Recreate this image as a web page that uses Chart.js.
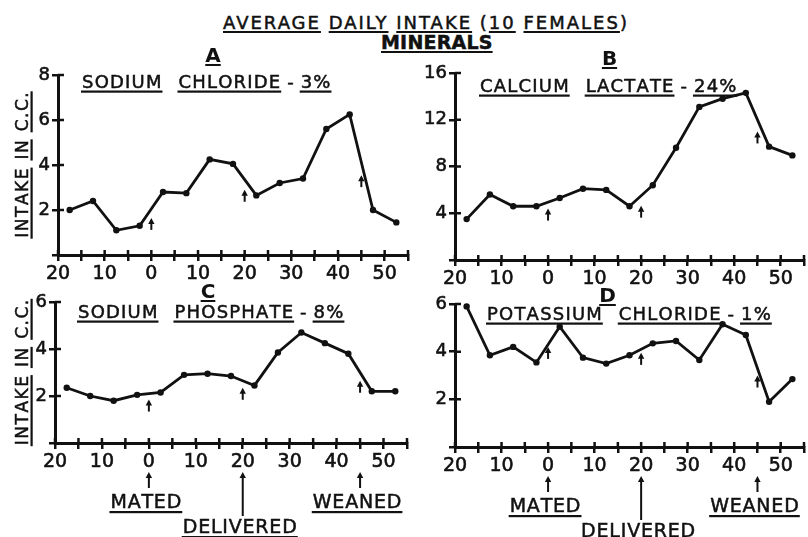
<!DOCTYPE html>
<html lang="en">
<head>
<meta charset="UTF-8">
<title>Average daily intake (10 females) - minerals</title>
<script src="https://cdn.jsdelivr.net/npm/chart.js"></script>
<style>
    body { margin: 0; background: #fff; }
    .page {
        position: relative;
        width: 808px;
        height: 537px;
        overflow: hidden;
        font-family: 'DejaVu Sans', sans-serif;
        color: #111;
    }
    .box { position: absolute; }
    .head {
        position: absolute;
        font-size: 18px;
        letter-spacing: 2px;
        line-height: 1;
        white-space: pre;
        -webkit-text-stroke: 0.5px #111;
    }
    .head u { text-decoration-thickness: 2px; text-underline-offset: 2px; }
</style>
</head>
<body>
<div class="page">
    <div class="head" style="left:223px; top:14px;"><u>AVERAGE</u> <u>DAILY</u> <u>INTAKE</u> (<u>10</u> <u>FEMALES</u>)</div>
    <div class="head" style="left:381px; top:33px; font-size:19px; font-weight:bold; letter-spacing:0.2px;"><u>MINERALS</u></div>
    <div class="box" style="left:0; top:40px; width:416px; height:250px;"><canvas id="cA"></canvas></div>
    <div class="box" style="left:400px; top:40px; width:408px; height:250px;"><canvas id="cB"></canvas></div>
    <div class="box" style="left:0; top:284px; width:416px; height:253px;"><canvas id="cC"></canvas></div>
    <div class="box" style="left:400px; top:284px; width:408px; height:253px;"><canvas id="cD"></canvas></div>
</div>

<script>
const ink = '#111';
const FONT = "'DejaVu Sans', sans-serif";

// days relative to mating (5-day periods)
const days = [-17.5, -12.5, -7.5, -2.5, 2.5, 7.5, 12.5, 17.5, 22.5, 27.5, 32.5, 37.5, 42.5, 47.5, 52.5];

// intake in c.c.
const sodiumChloride    = [2.0, 2.4, 1.1, 1.3, 2.8, 2.75, 4.25, 4.05, 2.65, 3.2, 3.4, 5.6, 6.25, 2.0, 1.45];
const calciumLactate    = [3.5, 5.6, 4.6, 4.6, 5.3, 6.1, 6.0, 4.6, 6.4, 9.6, 13.1, 13.8, 14.3, 9.7, 8.95];
const sodiumPhosphate   = [2.35, 2.0, 1.8, 2.05, 2.15, 2.9, 2.95, 2.85, 2.45, 3.85, 4.7, 4.25, 3.8, 2.2, 2.2];
const potassiumChloride = [5.9, 3.85, 4.2, 3.55, 5.05, 3.75, 3.5, 3.85, 4.35, 4.45, 3.65, 5.15, 4.7, 1.9, 2.85];

// mated / delivered / weaned
const eventDays = [0, 20, 45];
const eventNames = ['MATED', 'DELIVERED', 'WEANED'];

// where the small arrows sit on each curve (tip value)
const tipsA = [1.65, 2.9, 3.55];
const tipsB = [4.4, 4.65, 11.0];
const tipsC = [1.85, 2.35, 2.65];
const tipsD = [4.2, 3.95, 3.0];

// axis labels
const xLabelDays = [-20, -10, 0, 10, 20, 30, 40, 50];
const yTicksA = [2, 4, 6, 8];
const yTicksB = [4, 8, 12, 16];
const yTicksC = [2, 4, 6];
const yTicksD = [2, 4, 6];

const panels = {
    cA: { values: sodiumChloride, tips: tipsA, yTicks: yTicksA, letter: 'A',
          title: [['SODIUM', 1], ['CHLORIDE', 1], ['-', 0], ['3%', 1]],
          yWidth: 58, padTop: 35, padRight: 8, xHeight: 35,
          titleDx: 24, titleDy: 13, letterDx: -20, letterDy: -13, yLabelX: 28, events: false },
    cB: { values: calciumLactate, tips: tipsB, yTicks: yTicksB, letter: 'B',
          title: [['CALCIUM', 1], ['LACTATE', 1], ['-', 0], ['24%', 1]],
          yWidth: 55, padTop: 33, padRight: 2, xHeight: 30,
          titleDx: 25, titleDy: 19, letterDx: -20, letterDy: -8, yLabelX: 0, events: false },
    cC: { values: sodiumPhosphate, tips: tipsC, yTicks: yTicksC, letter: 'C',
          title: [['SODIUM', 1], ['PHOSPHATE', 1], ['-', 0], ['8%', 1]],
          yWidth: 55, padTop: 18, padRight: 9, xHeight: 94,
          titleDx: 23, titleDy: 16, letterDx: -23, letterDy: -4, yLabelX: 28, events: true },
    cD: { values: potassiumChloride, tips: tipsD, yTicks: yTicksD, letter: 'D',
          title: [['POTASSIUM', 1], ['CHLORIDE', 1], ['-', 0], ['1%', 1]],
          yWidth: 55, padTop: 20, padRight: 2, xHeight: 90,
          titleDx: 32, titleDy: 16, letterDx: -22, letterDy: -2, yLabelX: 0, events: true }
};

// text with letter spacing, optional underline per part
function partsWidth(ctx, parts, sp, gap) {
    let w = 0;
    parts.forEach(([t], i) => {
        for (const ch of t) w += ctx.measureText(ch).width + sp;
        w -= sp;
        if (i < parts.length - 1) w += gap(parts[i], parts[i + 1]);
    });
    return w;
}
function drawParts(ctx, parts, x, y, sp, gap, ulOff) {
    parts.forEach((part, i) => {
        const [t, ul] = part;
        const x0 = x;
        for (const ch of t) {
            ctx.fillText(ch, x, y);
            ctx.strokeText(ch, x, y);
            x += ctx.measureText(ch).width + sp;
        }
        x -= sp;
        if (ul) ctx.fillRect(x0 - 1, y + ulOff, x - x0 + 2, 2.2);
        if (i < parts.length - 1) x += gap(part, parts[i + 1]);
    });
}
const titleGap = (a, b) => (a[1] && b[1]) ? 17 : 7;

function upArrow(ctx, x, yTip, len) {
    ctx.beginPath();
    ctx.moveTo(x, yTip + 4);
    ctx.lineTo(x, yTip + len);
    ctx.stroke();
    ctx.beginPath();
    ctx.moveTo(x, yTip);
    ctx.lineTo(x - 3.2, yTip + 6);
    ctx.lineTo(x + 3.2, yTip + 6);
    ctx.closePath();
    ctx.fill();
}

const decor = {
    id: 'decor',
    afterDraw(chart) {
        const p = panels[chart.canvas.id];
        const { ctx, chartArea: a, scales: { x, y } } = chart;
        ctx.save();
        ctx.fillStyle = ink;
        ctx.strokeStyle = ink;
        ctx.textBaseline = 'alphabetic';

        // tick marks cross the axes
        ctx.lineWidth = 2.5;
        ctx.beginPath();
        x.ticks.forEach(t => {
            const px = x.getPixelForValue(t.value);
            ctx.moveTo(px, a.bottom);
            ctx.lineTo(px, a.bottom - 5);
        });
        y.ticks.forEach(t => {
            if (t.value === 0) return;
            const py = y.getPixelForValue(t.value);
            ctx.moveTo(a.left, py);
            ctx.lineTo(a.left + 6, py);
        });
        ctx.stroke();

        // event arrows on the curve
        ctx.lineWidth = 2;
        eventDays.forEach((d, i) => upArrow(ctx, x.getPixelForValue(d), y.getPixelForValue(p.tips[i]), 12));

        // panel letter
        ctx.font = 'bold 20px ' + FONT;
        const lx = (a.left + a.right) / 2 + p.letterDx;
        const lw = ctx.measureText(p.letter).width;
        ctx.fillText(p.letter, lx - lw / 2, a.top + p.letterDy);
        ctx.fillRect(lx - lw / 2, a.top + p.letterDy + 2, lw, 2);

        ctx.lineWidth = 0.5;

        // panel title
        ctx.font = '18px ' + FONT;
        drawParts(ctx, p.title, a.left + p.titleDx, a.top + p.titleDy, 1.2, titleGap, 2.5);

        // y axis title
        if (p.yLabelX) {
            ctx.save();
            ctx.font = '17px ' + FONT;
            const parts = [['INTAKE', 1], ['IN', 1], ['C.C.', 1]];
            const g = () => 9;
            const w = partsWidth(ctx, parts, 1.5, g);
            ctx.translate(p.yLabelX, (a.top + a.bottom) / 2);
            ctx.rotate(-Math.PI / 2);
            drawParts(ctx, parts, -w / 2, 0, 1.5, g, 2.5);
            ctx.restore();
        }

        // mated / delivered / weaned under the bottom panels
        if (p.events) {
            ctx.font = '19px ' + FONT;
            eventDays.forEach((d, i) => {
                const px = x.getPixelForValue(d);
                const low = i === 1;
                ctx.lineWidth = 2;
                upArrow(ctx, px, a.bottom + 29, low ? 44 : 16);
                ctx.lineWidth = 0.5;
                const parts = [[eventNames[i], 1]];
                const w = partsWidth(ctx, parts, 0.8, () => 0);
                drawParts(ctx, parts, px - 3 - w / 2, a.bottom + (low ? 90 : 65), 0.8, () => 0, 3);
            });
        }
        ctx.restore();
    }
};

function makeChart(id) {
    const p = panels[id];
    const yMax = p.yTicks[p.yTicks.length - 1];
    const axisGrid = { drawOnChartArea: false, color: ink, lineWidth: 2.5, tickLength: 6 };
    const axisBorder = { color: ink, width: 3 };
    return new Chart(document.getElementById(id), {
        type: 'line',
        data: {
            datasets: [{
                data: days.map((d, i) => ({ x: d, y: p.values[i] })),
                borderColor: ink,
                borderWidth: 2.8,
                pointRadius: 3.2,
                pointBackgroundColor: ink,
                pointBorderWidth: 0,
                tension: 0,
                clip: false
            }]
        },
        options: {
            responsive: true,
            maintainAspectRatio: false,
            animation: false,
            events: [],
            layout: { padding: { top: p.padTop, right: p.padRight, left: 0, bottom: 0 } },
            plugins: { legend: { display: false }, tooltip: { enabled: false } },
            scales: {
                x: {
                    type: 'linear', min: -20, max: 55,
                    afterFit: s => { s.height = p.xHeight; },
                    grid: axisGrid, border: axisBorder,
                    ticks: {
                        stepSize: 5, autoSkip: false, maxRotation: 0, padding: 2,
                        color: ink, textStrokeColor: ink, textStrokeWidth: 0.6,
                        font: { family: FONT, size: 19 },
                        callback: v => xLabelDays.includes(v) ? String(Math.abs(v)) : ''
                    }
                },
                y: {
                    min: 0, max: yMax,
                    afterFit: s => { s.width = p.yWidth; },
                    grid: axisGrid, border: axisBorder,
                    ticks: {
                        stepSize: p.yTicks[0], padding: 2,
                        color: ink, textStrokeColor: ink, textStrokeWidth: 0.6,
                        font: { family: FONT, size: 18 },
                        callback: v => p.yTicks.includes(v) ? String(v) : ''
                    }
                }
            }
        },
        plugins: [decor]
    });
}

Object.keys(panels).forEach(makeChart);
</script>
</body>
</html>
